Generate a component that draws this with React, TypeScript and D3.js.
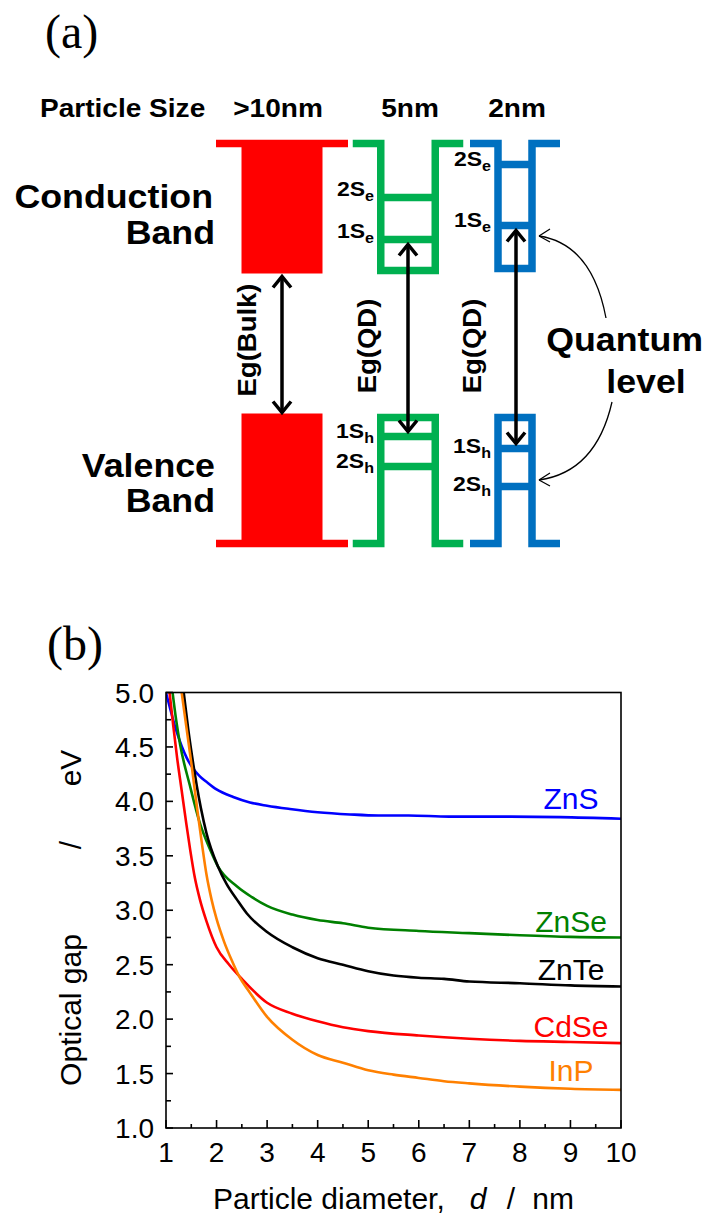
import React from "react";
import * as d3 from "d3";

// ---------- Panel (b) data: optical gap (eV) vs particle diameter (nm) ----------
const ZnS: [number, number][] = [[1,5.0],[1.21,4.64],[1.41,4.40],[1.54,4.30],[1.67,4.23],[1.8,4.18],[2.0,4.11],[2.33,4.04],[2.66,3.99],[3.0,3.96],[3.45,3.93],[4.0,3.90],[4.64,3.88],[5.2,3.87],[5.8,3.87],[6.6,3.86],[7.5,3.86],[8.8,3.855],[10,3.84]];
const ZnSe: [number, number][] = [[1.13,5.0],[1.2,4.75],[1.28,4.52],[1.47,4.15],[1.67,3.80],[1.87,3.56],[2.03,3.40],[2.4,3.22],[2.7,3.12],[3,3.04],[3.5,2.96],[4,2.91],[4.5,2.88],[5,2.84],[6,2.81],[7,2.79],[8,2.77],[9,2.755],[10,2.75]];
const ZnTe: [number, number][] = [[1.35,5.0],[1.44,4.66],[1.54,4.34],[1.61,4.14],[1.69,3.94],[1.80,3.71],[2.03,3.40],[2.2,3.24],[2.4,3.10],[2.6,2.97],[3,2.80],[3.5,2.66],[4,2.56],[4.5,2.50],[5,2.44],[5.5,2.40],[6,2.38],[6.5,2.37],[7,2.345],[8,2.33],[9,2.31],[10,2.30]];
const CdSe: [number, number][] = [[1.07,5.0],[1.145,4.69],[1.22,4.40],[1.31,4.10],[1.40,3.80],[1.48,3.55],[1.57,3.30],[1.67,3.10],[1.8,2.90],[2,2.66],[2.25,2.50],[2.5,2.37],[3,2.15],[3.5,2.05],[4,1.98],[4.5,1.925],[5,1.89],[6,1.85],[7,1.82],[8,1.80],[9,1.79],[10,1.78]];
const InP: [number, number][] = [[1.31,5.0],[1.41,4.66],[1.51,4.32],[1.62,3.92],[1.72,3.58],[1.8,3.33],[1.9,3.10],[2.0,2.92],[2.15,2.71],[2.3,2.54],[2.45,2.39],[2.65,2.25],[3,2.02],[3.5,1.81],[4,1.67],[4.5,1.60],[5,1.53],[5.5,1.49],[6,1.46],[6.5,1.43],[7,1.41],[8,1.38],[9,1.36],[10,1.35]];

const seriesNames = ["ZnS", "ZnSe", "ZnTe", "CdSe", "InP"];
const seriesData = [ZnS, ZnSe, ZnTe, CdSe, InP];
const seriesColors = ["#0000FF", "#008000", "#000000", "#FF0000", "#FF8000"];
const labelValues = [4.03, 2.90, 2.46, 1.94, 1.53]; // label positions (eV)

const xTicks = [1, 2, 3, 4, 5, 6, 7, 8, 9, 10];
const xMinorTicks = [1.5, 2.5, 3.5, 4.5, 5.5, 6.5, 7.5, 8.5, 9.5];
const yTicks = [1.0, 1.5, 2.0, 2.5, 3.0, 3.5, 4.0, 4.5, 5.0];
const yMinorTicks = [1.25, 1.75, 2.25, 2.75, 3.25, 3.75, 4.25, 4.75];

// ---------- Panel (a) schematic data ----------
const columnSizes = [">10nm", "5nm", "2nm"];
const columnColors = ["#FF0000", "#00B050", "#0070C0"];
// energy-axis values (schematic units; bigger = higher)
const condLevelsGreen = [{ name: "2S", sub: "e", e: 346 }, { name: "1S", sub: "e", e: 304 }];
const condLevelsBlue = [{ name: "2S", sub: "e", e: 379 }, { name: "1S", sub: "e", e: 318 }];
const valLevelsGreen = [{ name: "1S", sub: "h", e: 107 }, { name: "2S", sub: "h", e: 77 }];
const valLevelsBlue = [{ name: "1S", sub: "h", e: 95 }, { name: "2S", sub: "h", e: 57 }];

const FONT = "Liberation Sans, Arial, sans-serif";
const SERIF = "Liberation Serif, Times New Roman, serif";

export default function App() {
  // ---------- panel (b) scales ----------
  const x = d3.scaleLinear().domain([1, 10]).range([166, 621]);
  const y = d3.scaleLinear().domain([1, 5]).range([1128, 692.5]);
  const line = d3
    .line<[number, number]>()
    .x((d) => x(d[0]))
    .y((d) => y(d[1]))
    .curve(d3.curveMonotoneX);

  // ---------- panel (a) energy scale ----------
  const ey = d3.scaleLinear().domain([0, 400]).range([543.5, 143.5]);
  const topE = 400;
  const botE = 0;
  const bandCondBottom = 270;
  const bandValTop = 130;

  const colX = [282, 408, 515];
  const colHalf = [40.5, 27.25, 17];
  const SX = 1.1;
  const sw = 7.5;

  const wellPath = (cx: number, half: number, base: number, inner: number) =>
    `M${cx - half - 28},${ey(base)} H${cx - half} V${ey(inner)} H${cx + half} V${ey(base)} H${cx + half + 28}`;

  const arrowHead = (ax: number, ay: number, dir: number) =>
    `M${ax - 9},${ay + dir * 11} L${ax},${ay} L${ax + 9},${ay + dir * 11}`;

  const stretched = (tx: number, ty: number, extra = "", sx = SX) =>
    `translate(${tx},${ty}) ${extra} scale(${sx},1)`;

  const levelLabel = (lv: { name: string; sub: string }, xr: number, yb: number, key: string) => (
    <text key={key} transform={stretched(xr, yb, "", 1.15)} textAnchor="end" fontFamily={FONT} fontWeight="bold" fontSize={20}>
      {lv.name}
      <tspan fontSize={14} dy={5}>{lv.sub}</tspan>
    </text>
  );

  const arrows = [
    { cx: colX[0], top: ey(bandCondBottom) + 2, bot: ey(bandValTop) },
    { cx: 408, top: ey(condLevelsGreen[1].e) + 4, bot: ey(valLevelsGreen[0].e) - 4 },
    { cx: 516, top: ey(condLevelsBlue[1].e) + 4, bot: ey(valLevelsBlue[0].e) - 4 },
  ];

  return (
    <svg width={708} height={1218} style={{ position: "absolute", left: 0, top: 0, background: "#fff" }}>
      {/* ================= Panel (a) ================= */}
      <text x={45} y={48} fontFamily={SERIF} fontSize={48}>(a)</text>
      <text transform={stretched(40, 117)} fontFamily={FONT} fontWeight="bold" fontSize={25.5}>Particle Size</text>
      {columnSizes.map((s, i) => (
        <text key={s} transform={stretched(colX[i] + (i === 0 ? -4 : 2), 117)} textAnchor="middle" fontFamily={FONT} fontWeight="bold" fontSize={25.5}>
          {s}
        </text>
      ))}

      <text transform={stretched(213, 208)} textAnchor="end" fontFamily={FONT} fontWeight="bold" fontSize={32.5}>Conduction</text>
      <text transform={stretched(215, 244)} textAnchor="end" fontFamily={FONT} fontWeight="bold" fontSize={32.5}>Band</text>
      <text transform={stretched(215, 477)} textAnchor="end" fontFamily={FONT} fontWeight="bold" fontSize={32.5}>Valence</text>
      <text transform={stretched(215, 512)} textAnchor="end" fontFamily={FONT} fontWeight="bold" fontSize={32.5}>Band</text>

      {/* bulk (red) */}
      <g fill={columnColors[0]} stroke="none">
        <rect x={colX[0] - 66} y={ey(topE) - sw / 2} width={132} height={sw} />
        <rect x={colX[0] - colHalf[0]} y={ey(topE)} width={colHalf[0] * 2} height={ey(bandCondBottom) - ey(topE)} />
        <rect x={colX[0] - colHalf[0]} y={ey(bandValTop)} width={colHalf[0] * 2} height={ey(botE) - ey(bandValTop)} />
        <rect x={colX[0] - 66} y={ey(botE) - sw / 2} width={132} height={sw} />
      </g>

      {/* green 5nm */}
      <g stroke={columnColors[1]} strokeWidth={sw} fill="none" strokeLinejoin="miter">
        <path d={wellPath(408, colHalf[1], topE, 273)} />
        <path d={wellPath(408, colHalf[1], botE, 126)} />
        {[...condLevelsGreen, ...valLevelsGreen].map((lv, i) => (
          <line key={i} x1={408 - colHalf[1]} x2={408 + colHalf[1]} y1={ey(lv.e)} y2={ey(lv.e)} />
        ))}
      </g>
      {/* blue 2nm */}
      <g stroke={columnColors[2]} strokeWidth={sw} fill="none" strokeLinejoin="miter">
        <path d={wellPath(515, colHalf[2], topE, 275)} />
        <path d={wellPath(515, colHalf[2], botE, 126)} />
        {[...condLevelsBlue, ...valLevelsBlue].map((lv, i) => (
          <line key={i} x1={515 - colHalf[2]} x2={515 + colHalf[2]} y1={ey(lv.e)} y2={ey(lv.e)} />
        ))}
      </g>

      {/* level labels */}
      {condLevelsGreen.map((lv, i) => levelLabel(lv, 374, ey(lv.e) - 2, "cg" + i))}
      {valLevelsGreen.map((lv, i) => levelLabel(lv, 374, ey(lv.e) + 1, "vg" + i))}
      {condLevelsBlue.map((lv, i) => levelLabel(lv, 491, ey(lv.e) + 1, "cb" + i))}
      {valLevelsBlue.map((lv, i) => levelLabel(lv, 491, ey(lv.e) + 4, "vb" + i))}

      {/* double arrows */}
      <g stroke="#000" strokeWidth={3.5} fill="none">
        {arrows.map((a, i) => (
          <g key={i}>
            <line x1={a.cx} x2={a.cx} y1={a.top + 1} y2={a.bot - 1} />
            <path d={arrowHead(a.cx, a.top + 1, 1)} />
            <path d={arrowHead(a.cx, a.bot - 1, -1)} />
          </g>
        ))}
      </g>

      {/* Eg labels */}
      <text transform={stretched(256, 340, "rotate(-90)")} textAnchor="middle" fontFamily={FONT} fontWeight="bold" fontSize={25}>Eg(Bulk)</text>
      <text transform={stretched(376, 346, "rotate(-90)")} textAnchor="middle" fontFamily={FONT} fontWeight="bold" fontSize={25}>Eg(QD)</text>
      <text transform={stretched(481, 346, "rotate(-90)")} textAnchor="middle" fontFamily={FONT} fontWeight="bold" fontSize={25}>Eg(QD)</text>

      {/* Quantum level annotation */}
      <text transform={stretched(703, 351)} textAnchor="end" fontFamily={FONT} fontWeight="bold" fontSize={32.5}>Quantum</text>
      <text transform={stretched(646, 393)} textAnchor="middle" fontFamily={FONT} fontWeight="bold" fontSize={32.5}>level</text>
      <g stroke="#000" strokeWidth={1.3} fill="none">
        <path d={`M606,318 Q592,244 539,236`} />
        <path d={`M539,236 L550,229 M539,236 L550,242`} />
        <path d={`M612,402 Q596,472 539,480`} />
        <path d={`M539,480 L550,473 M539,480 L550,486`} />
      </g>

      {/* ================= Panel (b) ================= */}
      <text x={47} y={660} fontFamily={SERIF} fontSize={48}>(b)</text>

      <defs>
        <clipPath id="plotclip">
          <rect x={166} y={692.5} width={455} height={435.5} />
        </clipPath>
      </defs>

      <g clipPath="url(#plotclip)" fill="none" strokeWidth={2.6}>
        {seriesData.map((s, i) => (
          <path key={seriesNames[i]} d={line(s) || ""} stroke={seriesColors[i]} />
        ))}
      </g>

      {/* frame */}
      <rect x={166} y={692.5} width={455} height={435.5} fill="none" stroke="#000" strokeWidth={1.6} />

      {/* ticks */}
      <g stroke="#000" strokeWidth={1.6}>
        {xTicks.map((t) => (
          <line key={"xt" + t} x1={x(t)} x2={x(t)} y1={1128} y2={1120} />
        ))}
        {xMinorTicks.map((t) => (
          <line key={"xm" + t} x1={x(t)} x2={x(t)} y1={1128} y2={1124} />
        ))}
        {yTicks.map((t) => (
          <line key={"yt" + t} x1={166} x2={173} y1={y(t)} y2={y(t)} />
        ))}
        {yMinorTicks.map((t) => (
          <line key={"ym" + t} x1={166} x2={171} y1={y(t)} y2={y(t)} />
        ))}
      </g>

      <g fontFamily={FONT} fontSize={28} fill="#000">
        {xTicks.map((t) => (
          <text key={"xl" + t} x={x(t)} y={1162} textAnchor="middle">{t}</text>
        ))}
        {yTicks.map((t) => (
          <text key={"yl" + t} x={154} y={y(t) + 10} textAnchor="end">{t.toFixed(1)}</text>
        ))}
      </g>

      {/* series labels */}
      <g fontFamily={FONT} fontSize={30}>
        {seriesNames.map((n, i) => (
          <text key={"lab" + n} x={571} y={y(labelValues[i]) + 11} textAnchor="middle" fill={seriesColors[i]}>{n}</text>
        ))}
      </g>

      {/* axis titles */}
      <g fontFamily={FONT} fontSize={30} fill="#000">
        <text x={213} y={1209}>Particle diameter,</text>
        <text x={478} y={1209} textAnchor="middle" fontStyle="italic">d</text>
        <text x={511} y={1209} textAnchor="middle">/</text>
        <text x={574} y={1209} textAnchor="end">nm</text>

        <text transform="translate(81,1010) rotate(-90)" textAnchor="middle">Optical gap</text>
        <text transform="translate(81,845) rotate(-90)" textAnchor="middle">/</text>
        <text transform="translate(81,768) rotate(-90)" textAnchor="middle">eV</text>
      </g>
    </svg>
  );
}
